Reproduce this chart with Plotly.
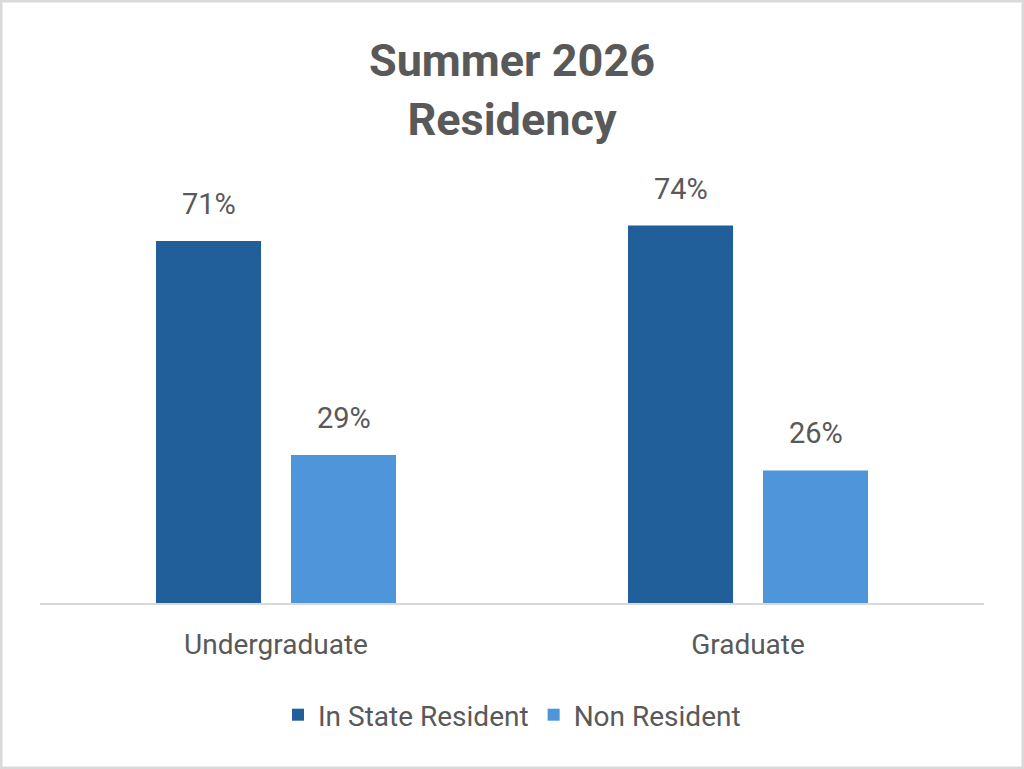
import plotly.graph_objects as go

# Chart data
categories = ['Undergraduate', 'Graduate']
in_state = [0.71, 0.74]
non_resident = [0.29, 0.26]
series_names = ['In State Resident', 'Non Resident']
series_colors = ['#215F9A', '#4E95D9']

FONT = 'Roboto'
TEXT_COLOR = '#595959'

fig = go.Figure()

for name, values, color in zip(series_names, [in_state, non_resident], series_colors):
    fig.add_trace(go.Bar(
        x=categories,
        y=values,
        name=name,
        marker=dict(color=color, line=dict(width=0)),
        hoverinfo='skip',
    ))

# Data labels above the bars (offset left/right for the grouped bars)
annotations = []
for shift, values in zip([-67.5, 67.5], [in_state, non_resident]):
    for cat, val in zip(categories, values):
        annotations.append(dict(
            x=cat, y=val, xref='x', yref='y',
            text=f'{val:.0%}',
            showarrow=False,
            xshift=shift, yshift=37,
            yanchor='middle',
            font=dict(family=FONT, size=29, color=TEXT_COLOR),
        ))

fig.update_layout(
    width=1024,
    height=769,
    margin=dict(l=0, r=0, t=0, b=0),
    paper_bgcolor='white',
    plot_bgcolor='white',
    barmode='group',
    bargap=0.428,
    bargroupgap=0.222,
    title=dict(
        text='<b>Summer 2026<br>Residency</b>',
        x=0.5, xanchor='center',
        y=(769 - 76) / 769, yanchor='middle',
        font=dict(family=FONT, size=45, color=TEXT_COLOR),
    ),
    xaxis=dict(
        domain=[40 / 1024, 984 / 1024],
        showline=True, linecolor='#D9D9D9', linewidth=2,
        showgrid=False, ticks='',
        ticklabelstandoff=15,
        tickfont=dict(family=FONT, size=28, color=TEXT_COLOR),
    ),
    yaxis=dict(
        domain=[(769 - 603) / 769, (769 - 195) / 769],
        range=[0, 0.8],
        visible=False,
        showgrid=False,
    ),
    legend=dict(
        orientation='h',
        x=0.5, xanchor='center',
        y=(769 - 715) / 769, yanchor='middle',
        font=dict(family=FONT, size=28, color=TEXT_COLOR),
    ),
    annotations=annotations,
    shapes=[dict(
        type='rect', xref='paper', yref='paper',
        x0=0, x1=1, y0=0, y1=1,
        line=dict(color='#D9D9D9', width=5),
    )],
)

fig.write_html(
    'out.html',
    config={'displayModeBar': False},
    post_script="document.body.style.margin='0px';",
)
